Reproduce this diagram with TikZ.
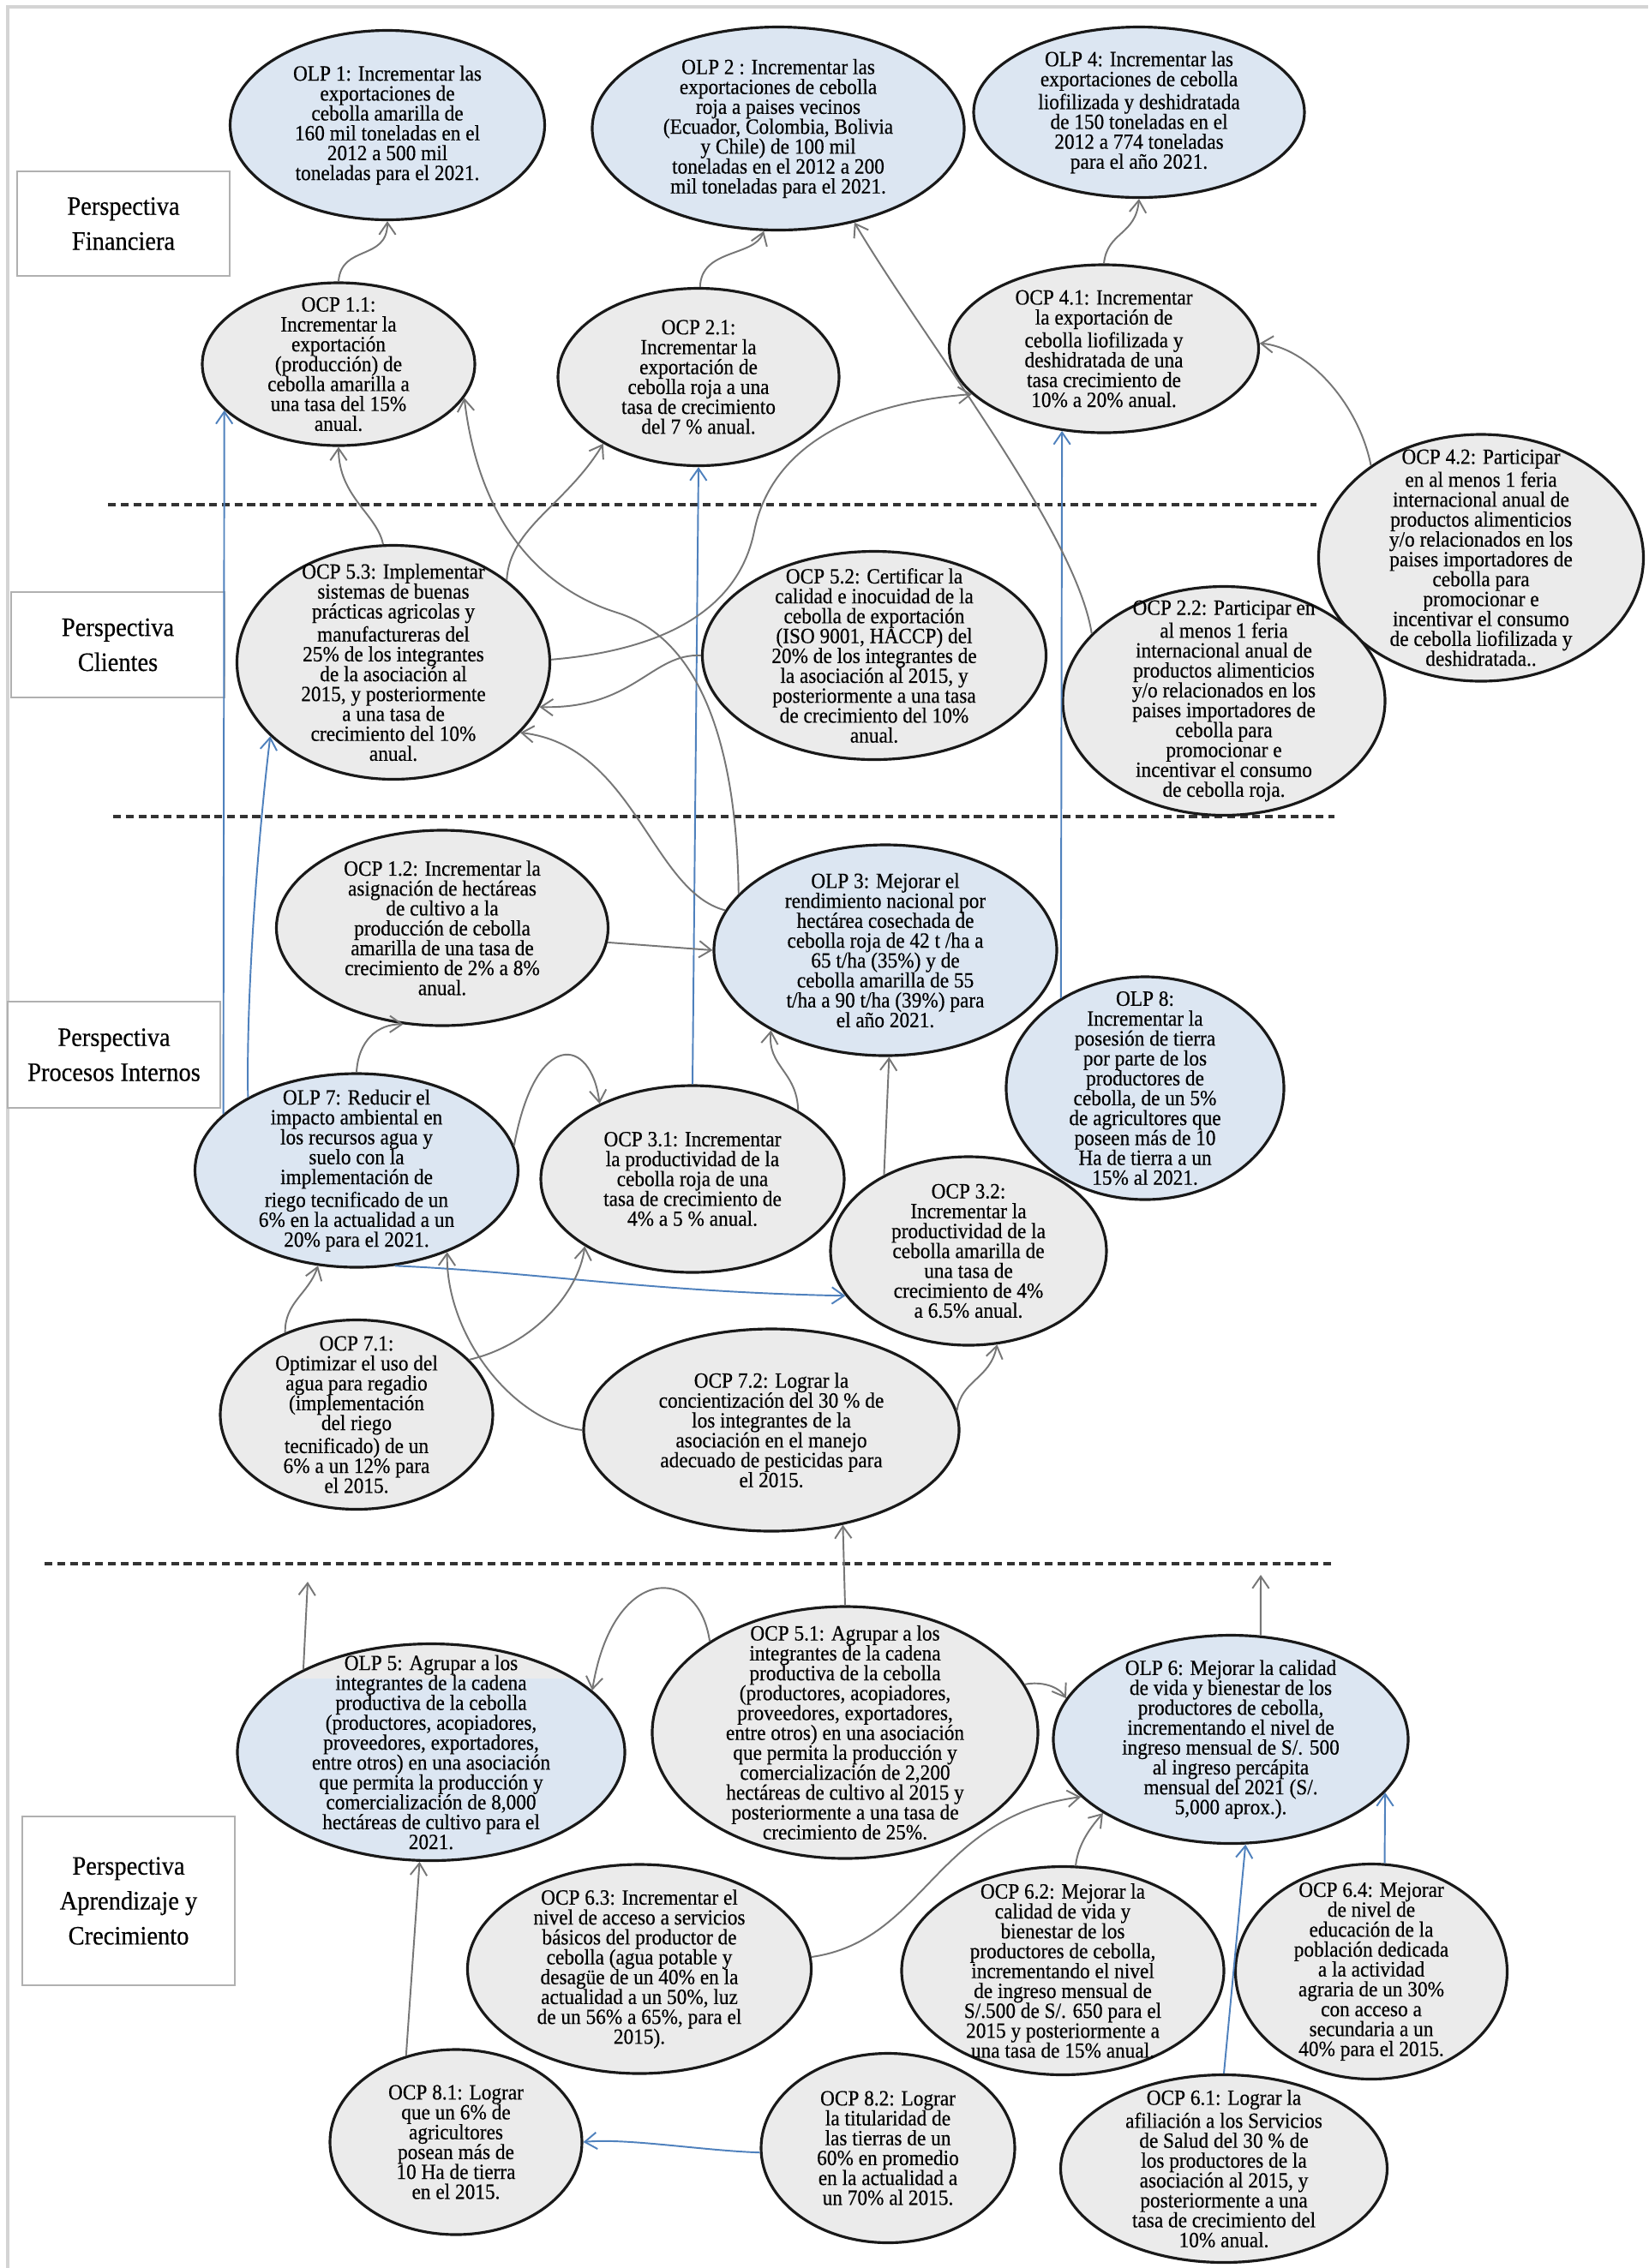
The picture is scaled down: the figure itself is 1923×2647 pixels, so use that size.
\documentclass[tikz,border=0pt]{standalone}
\usepackage{fontspec}
\setmainfont{Liberation Serif}
\newfontfamily\nodefont[FakeStretch=0.92,FakeBold=0.4]{Liberation Serif}
\usetikzlibrary{shapes.geometric,arrows.meta}

\definecolor{olpfill}{HTML}{DCE6F2}
\definecolor{ocpfill}{HTML}{EBEBEB}
\definecolor{conn}{HTML}{767676}
\definecolor{connblue}{HTML}{4F81BD}
\definecolor{framegray}{HTML}{D4D4D4}
\definecolor{boxgray}{HTML}{B0B0B0}

\tikzset{
  goal/.style={ellipse, draw=black!90, line width=0.9pt, inner sep=0pt},
  olp/.style={goal, fill=olpfill},
  ocp/.style={goal, fill=ocpfill},
  olpband/.style={olp, path picture={\fill[ocpfill] (path picture bounding box.north west) rectangle ([yshift=-0.4cm]path picture bounding box.north east);}},
  gtext/.style={align=center, inner sep=0pt, font=\nodefont\fontsize{7.2}{6.6}\selectfont},
  persp/.style={draw=boxgray, line width=0.5pt, fill=white, align=center, inner sep=0pt,
                font=\nodefont\fontsize{8.8}{11.6}\selectfont},
  arr/.style={draw=conn, line width=0.55pt, -{Straight Barb[length=4pt,width=5.5pt]}},
  barr/.style={arr, draw=connblue},
  sep/.style={draw=black!80, line width=0.9pt, dash pattern=on 2.6pt off 1.6pt},
}

% objective ellipse: style, name, centre x, centre y, width, height, text
\newcommand\goal[7]{%
  \node[#1, minimum width=#5*0.01cm, minimum height=#6*0.01cm] (#2) at (#3,-#4) {};
  \node[gtext] (#2t) at (#2.center) {#7};}

% perspective label box: name, x1, y1, x2, y2, text
\newcommand\persbox[6]{%
  \node[persp, minimum width=(#4-#2)*0.01cm, minimum height=(#5-#3)*0.01cm]
    (#1) at ({(#2+#4)/2},{-(#3+#5)/2}) {#6};}

\begin{document}
\begin{tikzpicture}[x=0.01cm,y=0.01cm]
\useasboundingbox (0,0) rectangle (1923,-2647);
\fill[white] (0,0) rectangle (1923,-2647);
\draw[framegray, line width=1pt] (9,-2647) -- (9,-8) -- (1923,-8);

% perspective separators
\draw[sep] (126,-589) -- (1536,-589);
\draw[sep] (132,-953) -- (1557,-953);
\draw[sep] (52,-1825) -- (1557,-1825);

% perspective labels
\persbox{pfin}{20}{200}{268}{322}{Perspectiva\\Financiera}
\persbox{pcli}{13}{691}{262}{814}{Perspectiva\\Clientes}
\persbox{ppro}{9}{1169}{257}{1293}{Perspectiva\\Procesos Internos}
\persbox{papr}{26}{2120}{274}{2317}{Perspectiva\\Aprendizaje y\\Crecimiento}

% financial perspective
\goal{olp}{olp1}{452}{146}{367}{221}{OLP 1: Incrementar las\\exportaciones de\\cebolla amarilla de\\160 mil toneladas en el\\2012 a 500 mil\\toneladas para el 2021.}
\goal{olp}{olp2}{908}{150}{434}{237}{OLP 2 : Incrementar las\\exportaciones de cebolla\\roja a paises vecinos\\(Ecuador, Colombia, Bolivia\\y Chile) de 100 mil\\toneladas en el 2012 a 200\\mil toneladas para el 2021.}
\goal{olp}{olp4}{1329}{131}{386}{199}{OLP 4: Incrementar las\\exportaciones de cebolla\\liofilizada y deshidratada\\de 150 toneladas en el\\2012 a 774 toneladas\\para el año 2021.}
\goal{ocp}{ocp11}{395}{425}{318}{190}{OCP 1.1:\\Incrementar la\\exportación\\(producción) de\\cebolla amarilla a\\una tasa del 15\%\\anual.}
\goal{ocp}{ocp21}{815}{440}{328}{207}{OCP 2.1:\\Incrementar la\\exportación de\\cebolla roja a una\\tasa de crecimiento\\del 7 \% anual.}
\goal{ocp}{ocp41}{1288}{407}{361}{196}{OCP 4.1: Incrementar\\la exportación de\\cebolla liofilizada y\\deshidratada de una\\tasa crecimiento de\\10\% a 20\% anual.}
\goal{ocp}{ocp42}{1728}{651}{379}{288}{OCP 4.2: Participar\\en al menos 1 feria\\internacional anual de\\productos alimenticios\\y/o relacionados en los\\paises importadores de\\cebolla para\\promocionar e\\incentivar el consumo\\de cebolla liofilizada y\\deshidratada..}

% customer perspective
\goal{ocp}{ocp53}{459}{773}{365}{273}{OCP 5.3: Implementar\\sistemas de buenas\\prácticas agricolas y\\manufactureras del\\25\% de los integrantes\\de la asociación al\\2015, y posteriormente\\a una tasa de\\crecimiento del 10\%\\anual.}
\goal{ocp}{ocp52}{1020}{765}{401}{243}{OCP 5.2: Certificar la\\calidad e inocuidad de la\\cebolla de exportación\\(ISO 9001, HACCP) del\\20\% de los integrantes de\\la asociación al 2015, y\\posteriormente a una tasa\\de crecimiento del 10\%\\anual.}
\goal{ocp}{ocp22}{1428}{818}{376}{267}{OCP 2.2: Participar en\\al menos 1 feria\\internacional anual de\\productos alimenticios\\y/o relacionados en los\\paises importadores de\\cebolla para\\promocionar e\\incentivar el consumo\\de cebolla roja.}

% internal process perspective
\goal{ocp}{ocp12}{516}{1083}{387}{228}{OCP 1.2: Incrementar la\\asignación de hectáreas\\de cultivo a la\\producción de cebolla\\amarilla de una tasa de\\crecimiento de 2\% a 8\%\\anual.}
\goal{olp}{olp3}{1033}{1109}{400}{246}{OLP 3: Mejorar el\\rendimiento nacional por\\hectárea cosechada de\\cebolla roja de 42 t /ha a\\65 t/ha (35\%) y de\\cebolla amarilla de 55\\t/ha a 90 t/ha (39\%) para\\el año 2021.}
\goal{olp}{olp8}{1336}{1270}{324}{260}{OLP 8:\\Incrementar la\\posesión de tierra\\por parte de los\\productores de\\cebolla, de un 5\%\\de agricultores que\\poseen más de 10\\Ha de tierra a un\\15\% al 2021.}
\goal{olp}{olp7}{416}{1366}{377}{226}{OLP 7: Reducir el\\impacto ambiental en\\los recursos agua y\\suelo con la\\implementación de\\riego tecnificado de un\\6\% en la actualidad a un\\20\% para el 2021.}
\goal{ocp}{ocp31}{808}{1376}{354}{218}{OCP 3.1: Incrementar\\la productividad de la\\cebolla roja de una\\tasa de crecimiento de\\4\% a 5 \% anual.}
\goal{ocp}{ocp32}{1130}{1460}{322}{220}{OCP 3.2:\\Incrementar la\\productividad de la\\cebolla amarilla de\\una tasa de\\crecimiento de 4\%\\a 6.5\% anual.}
\goal{ocp}{ocp71}{416}{1651}{318}{221}{OCP 7.1:\\Optimizar el uso del\\agua para regadio\\(implementación\\del riego\\tecnificado) de un\\6\% a un 12\% para\\el 2015.}
\goal{ocp}{ocp72}{900}{1669}{438}{236}{OCP 7.2: Lograr la\\concientización del 30 \% de\\los integrantes de la\\asociación en el manejo\\adecuado de pesticidas para\\el 2015.}

% learning and growth perspective
\goal{olpband}{olp5}{503}{2045}{452}{253}{OLP 5: Agrupar a los\\integrantes de la cadena\\productiva de la cebolla\\(productores, acopiadores,\\proveedores, exportadores,\\entre otros) en una asociación\\que permita la producción y\\comercialización de 8,000\\hectáreas de cultivo para el\\2021.}
\goal{ocp}{ocp51}{986}{2022}{450}{294}{OCP 5.1: Agrupar a los\\integrantes de la cadena\\productiva de la cebolla\\(productores, acopiadores,\\proveedores, exportadores,\\entre otros) en una asociación\\que permita la producción y\\comercialización de 2,200\\hectáreas de cultivo al 2015 y\\posteriormente a una tasa de\\crecimiento de 25\%.}
\goal{olp}{olp6}{1436}{2030}{414}{243}{OLP 6: Mejorar la calidad\\de vida y bienestar de los\\productores de cebolla,\\incrementando el nivel de\\ingreso mensual de S/. 500\\al ingreso percápita\\mensual del 2021 (S/.\\5,000 aprox.).}
\goal{ocp}{ocp63}{746}{2298}{401}{244}{OCP 6.3: Incrementar el\\nivel de acceso a servicios\\básicos del productor de\\cebolla (agua potable y\\desagüe de un 40\% en la\\actualidad a un 50\%, luz\\de un 56\% a 65\%, para el\\2015).}
\goal{ocp}{ocp62}{1240}{2300}{376}{243}{OCP 6.2: Mejorar la\\calidad de vida y\\bienestar de los\\productores de cebolla,\\incrementando el nivel\\de ingreso mensual de\\S/.500 de S/. 650 para el\\2015 y posteriormente a\\una tasa de 15\% anual.}
\goal{ocp}{ocp64}{1600}{2301}{317}{251}{OCP 6.4: Mejorar\\de nivel de\\educación de la\\población dedicada\\a la actividad\\agraria de un 30\%\\con acceso a\\secundaria a un\\40\% para el 2015.}
\goal{ocp}{ocp81}{532}{2500}{294}{216}{OCP 8.1: Lograr\\que un 6\% de\\agricultores\\posean más de\\10 Ha de tierra\\en el 2015.}
\goal{ocp}{ocp82}{1036}{2507}{296}{221}{OCP 8.2: Lograr\\la titularidad de\\las tierras de un\\60\% en promedio\\en la actualidad a\\un 70\% al 2015.}
\goal{ocp}{ocp61}{1428}{2531}{381}{219}{OCP 6.1: Lograr la\\afiliación a los Servicios\\de Salud del 30 \% de\\los productores de la\\asociación al 2015, y\\posteriormente a una\\tasa de crecimiento del\\10\% anual.}

% cause-effect links
\draw[arr] (ocp11.90) .. controls (398,-285) and (452,-305) .. (olp1.270);
\draw[arr] (ocp21.89) .. controls (818,-290) and (880,-300) .. (olp2.262);
\draw[arr] (ocp41.90) .. controls (1292,-270) and (1325,-275) .. (olp4.270);
\draw[arr] (ocp42.140) .. controls (1585,-470) and (1525,-405) .. (ocp41.2);

\draw[barr] (olp7.157) -- (ocp11.202);
\draw[barr] (olp7.146) .. controls (287,-1150) and (303,-960) .. (ocp53.211);
\draw[barr] (ocp31.north) -- (ocp21.south);
\draw[barr] (olp8.133) -- (ocp41.243);

\draw[arr] (ocp32.138) -- (olp3.272);
\draw[arr] (ocp31.33) .. controls (930,-1250) and (895,-1245) .. (olp3.215);
\draw[arr] (ocp12.355) -- (olp3.180);
\draw[arr] (olp3.166) .. controls (760,-1040) and (740,-870) .. (ocp53.331);
\draw[arr] (olp3.159) .. controls (860,-900) and (830,-750) .. (720,-715)
                      .. controls (640,-690) and (560,-620) .. (ocp11.345);
\draw[arr] (ocp53.95) .. controls (440,-600) and (395,-580) .. (ocp11.270);
\draw[arr] (ocp53.36) .. controls (595,-615) and (660,-590) .. (ocp21.215);
\draw[arr] (ocp53.1) .. controls (760,-760) and (860,-720) .. (880,-620)
                     .. controls (900,-520) and (1000,-470) .. (ocp41.199);
\draw[arr] (ocp52.180) .. controls (760,-762) and (740,-828) .. (ocp53.343);
\draw[arr] (ocp22.153) .. controls (1255,-620) and (1080,-400) .. (olp2.309);

\draw[arr] (olp7.9) .. controls (625,-1200) and (690,-1210) .. (ocp31.141);
\draw[arr] (olp7.90) .. controls (418,-1215) and (440,-1195) .. (ocp12.248);
\draw[barr] (olp7.292) .. controls (620,-1484) and (760,-1508) .. (ocp32.200);
\draw[arr] (ocp71.131) .. controls (332,-1520) and (360,-1510) .. (olp7.248);
\draw[arr] (ocp71.26) .. controls (620,-1570) and (675,-1510) .. (ocp31.212);
\draw[arr] (ocp72.180) .. controls (600,-1660) and (520,-1560) .. (olp7.318);
\draw[arr] (ocp72.6) .. controls (1122,-1610) and (1155,-1610) .. (ocp32.287);

\draw[arr] (ocp51.north) -- (ocp72.307);
\coordinate (olp5up) at (359,-1846);
\draw[arr] (olp5.147) -- (olp5up);
\coordinate (olp6up) at (1471,-1838);
\draw[arr] (olp6.74) -- (olp6up);
\draw[arr] (ocp51.146) .. controls (815,-1825) and (715,-1825) .. (olp5.21);
\draw[arr] (ocp51.15) .. controls (1215,-1962) and (1235,-1968) .. (olp6.166);
\draw[arr] (ocp63.4) .. controls (1080,-2265) and (1090,-2120) .. (olp6.201);
\draw[arr] (ocp62.83) .. controls (1258,-2150) and (1275,-2130) .. (olp6.210);
\draw[barr] (ocp61.north) -- (olp6.278);
\draw[barr] (ocp64.83) -- (olp6.341);
\draw[arr] (ocp81.120) -- (olp5.264);
\draw[barr] (ocp82.182) .. controls (820,-2510) and (730,-2495) .. (ocp81.east);
\end{tikzpicture}
\end{document}
